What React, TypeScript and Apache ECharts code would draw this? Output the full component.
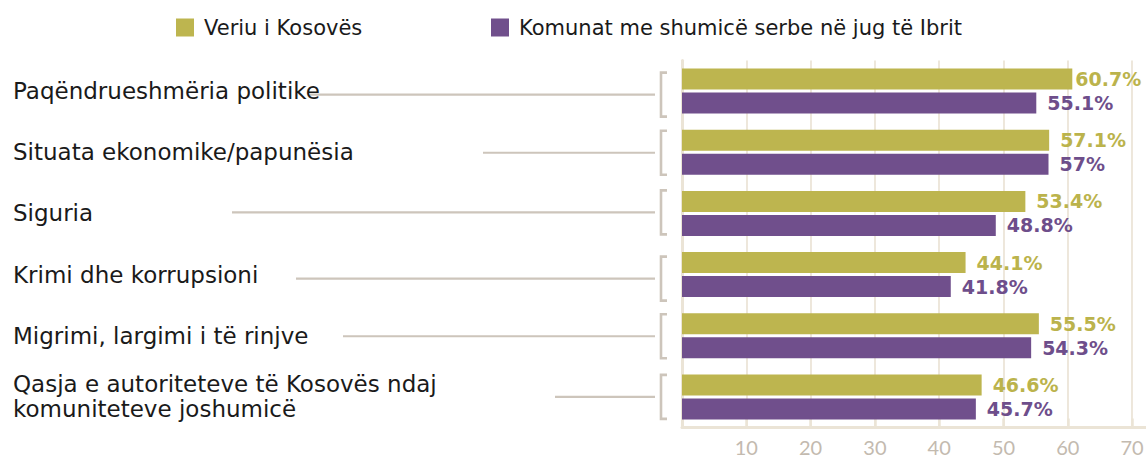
import React, { useEffect, useRef } from "react";
import * as echarts from "echarts";

const categories = [
  "Paqëndrueshmëria politike",
  "Situata ekonomike/papunësia",
  "Siguria",
  "Krimi dhe korrupsioni",
  "Migrimi, largimi i të rinjve",
  "Qasja e autoriteteve të Kosovës ndaj\nkomuniteteve joshumicë",
];
const seriesNames = ["Veriu i Kosovës", "Komunat me shumicë serbe në jug të Ibrit"];
const veriuValues = [60.7, 57.1, 53.4, 44.1, 55.5, 46.6];
const juguValues = [55.1, 57, 48.8, 41.8, 54.3, 45.7];

// decorative connector styling (positions only, not data)
const connectorStartX = [310, 483, 232, 296, 343, 555];
const connectorDy = [3.5, 0.5, -1, 4, 0.5, 0];

const OLIVE = "#bdb54f";
const PURPLE = "#704f8c";
const GREY = "#cdc5bb";
const BEIGE = "#ebe4d6";
const FONT = "DejaVu Sans";

export default function App() {
  const ref = useRef<HTMLDivElement>(null);
  useEffect(() => {
    if (!ref.current) return;
    const chart = echarts.init(ref.current, undefined, { renderer: "svg" });
    const legendCommon = {
      top: 12,
      itemWidth: 18,
      itemHeight: 18,
      icon: "rect",
      selectedMode: false,
      textStyle: { fontSize: 21, color: "#1a1a1a", fontFamily: FONT, padding: [2, 0, 0, 5] },
    };
    // keep the top label inside the page, as in the reference
    const veriuData = veriuValues.map((v) => (v > 60 ? { value: v, label: { distance: 3 } } : v));
    chart.setOption({
      animation: false,
      legend: [
        { ...legendCommon, left: 171, data: [seriesNames[0]] },
        { ...legendCommon, left: 486, data: [seriesNames[1]] },
      ],
      grid: {
        left: 682,
        top: 60.5,
        height: 367,
        width: 514.4,
        containLabel: false,
        outerBoundsMode: "none",
      },
      xAxis: {
        type: "value",
        min: 0,
        max: 80,
        interval: 10,
        axisLine: { show: true, lineStyle: { color: BEIGE, width: 3 } },
        axisTick: { show: true, inside: true, length: 9, lineStyle: { color: BEIGE, width: 2.5 } },
        splitLine: { show: true, lineStyle: { color: "#ece5d8", width: 1.8 } },
        axisLabel: {
          showMinLabel: false,
          showMaxLabel: false,
          margin: 9,
          fontSize: 20,
          lineHeight: 20,
          color: "#c3baaf",
          fontFamily: "Lato",
        },
      },
      yAxis: {
        type: "category",
        inverse: true,
        data: categories,
        axisLine: { show: true, lineStyle: { color: BEIGE, width: 3 } },
        axisTick: { show: false },
        axisLabel: {
          align: "left",
          margin: 669,
          fontSize: 23,
          lineHeight: 25,
          color: "#1a1a1a",
          fontFamily: FONT,
        },
      },
      series: [
        {
          name: seriesNames[0],
          type: "bar",
          data: veriuData,
          barWidth: 21,
          barGap: "14%",
          itemStyle: { color: OLIVE },
          label: {
            show: true,
            position: "right",
            distance: 11,
            formatter: "{c}%",
            color: "#bbb34c",
            fontSize: 19,
            fontWeight: "bold",
            fontFamily: FONT,
          },
        },
        {
          name: seriesNames[1],
          type: "bar",
          data: juguValues,
          barWidth: 21,
          barGap: "14%",
          itemStyle: { color: PURPLE },
          label: {
            show: true,
            position: "right",
            distance: 11,
            formatter: "{c}%",
            color: "#6e4e8b",
            fontSize: 19,
            fontWeight: "bold",
            fontFamily: FONT,
          },
        },
      ],
    });

    const graphics: any[] = [];
    categories.forEach((c, i) => {
      const yc = (chart.convertToPixel({ yAxisIndex: 0 }, c) as number) + connectorDy[i];
      graphics.push({
        type: "line",
        silent: true,
        shape: { x1: connectorStartX[i], y1: yc, x2: 655, y2: yc },
        style: { stroke: GREY, lineWidth: 2.2 },
      });
      graphics.push({
        type: "polyline",
        silent: true,
        shape: {
          points: [
            [667, yc - 22],
            [661, yc - 22],
            [661, yc + 22],
            [667, yc + 22],
          ],
        },
        style: { stroke: GREY, lineWidth: 2.6, fill: null },
      });
    });
    chart.setOption({ graphic: graphics });

    return () => chart.dispose();
  }, []);
  return (
    <div
      ref={ref}
      style={{ position: "absolute", left: 0, top: 0, width: 1146, height: 457, background: "#fff" }}
    />
  );
}
